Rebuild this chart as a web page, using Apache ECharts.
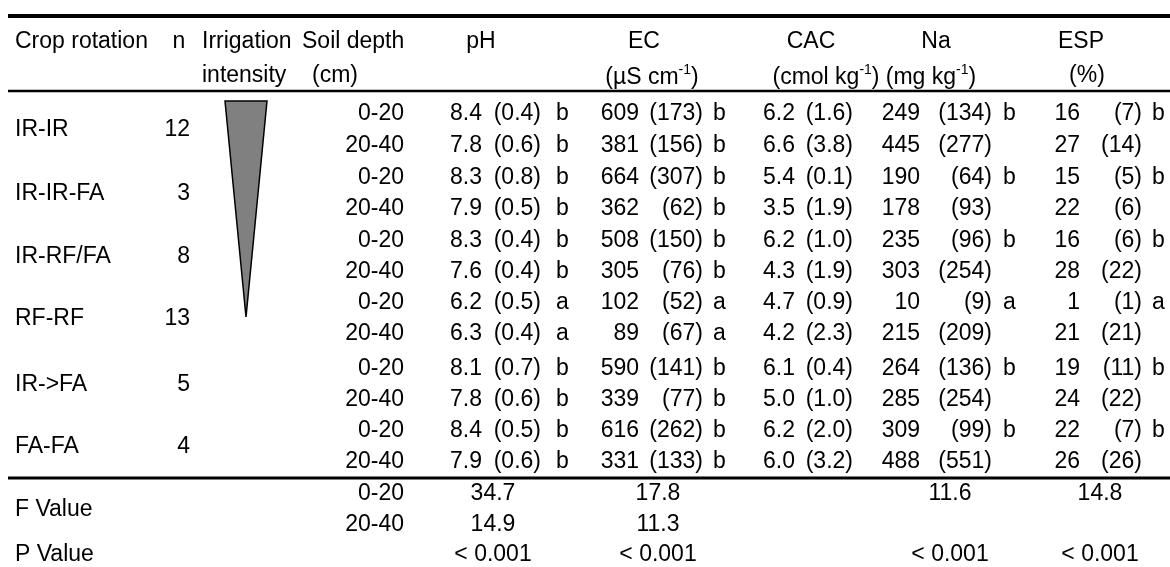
<!DOCTYPE html>
<html>
<head>
<meta charset="utf-8">
<script src="https://cdn.jsdelivr.net/npm/echarts@6/dist/echarts.min.js"></script>
<style>
html,body{margin:0;padding:0;background:#fff;}
#c{width:1170px;height:567px;}
</style>
</head>
<body>
<div id="c"></div>
<script>
// ---------- data ----------
const rotations = ['IR-IR', 'IR-IR-FA', 'IR-RF/FA', 'RF-RF', 'IR->FA', 'FA-FA'];
const nValues = [12, 3, 8, 13, 5, 4];
const depths = ['0-20', '20-40'];

const pHMean = [8.4, 7.8, 8.3, 7.9, 8.3, 7.6, 6.2, 6.3, 8.1, 7.8, 8.4, 7.9];
const pHSd = [0.4, 0.6, 0.8, 0.5, 0.4, 0.4, 0.5, 0.4, 0.7, 0.6, 0.5, 0.6];
const pHLetter = ['b', 'b', 'b', 'b', 'b', 'b', 'a', 'a', 'b', 'b', 'b', 'b'];

const ecMean = [609, 381, 664, 362, 508, 305, 102, 89, 590, 339, 616, 331];
const ecSd = [173, 156, 307, 62, 150, 76, 52, 67, 141, 77, 262, 133];
const ecLetter = ['b', 'b', 'b', 'b', 'b', 'b', 'a', 'a', 'b', 'b', 'b', 'b'];

const cacMean = [6.2, 6.6, 5.4, 3.5, 6.2, 4.3, 4.7, 4.2, 6.1, 5.0, 6.2, 6.0];
const cacSd = [1.6, 3.8, 0.1, 1.9, 1.0, 1.9, 0.9, 2.3, 0.4, 1.0, 2.0, 3.2];

const naMean = [249, 445, 190, 178, 235, 303, 10, 215, 264, 285, 309, 488];
const naSd = [134, 277, 64, 93, 96, 254, 9, 209, 136, 254, 99, 551];
const naLetter = ['b', '', 'b', '', 'b', '', 'a', '', 'b', '', 'b', ''];

const espMean = [16, 27, 15, 22, 16, 28, 1, 21, 19, 24, 22, 26];
const espSd = [7, 14, 5, 6, 6, 22, 1, 21, 11, 22, 7, 26];
const espLetter = ['b', '', 'b', '', 'b', '', 'a', '', 'b', '', 'b', ''];

const fValues = { pH: [34.7, 14.9], EC: [17.8, 11.3], Na: [11.6, null], ESP: [14.8, null] };
const pValues = { pH: '< 0.001', EC: '< 0.001', Na: '< 0.001', ESP: '< 0.001' };

const headers1 = ['Crop rotation', 'n', 'Irrigation', 'Soil depth', 'pH', 'EC', 'CAC', 'Na', 'ESP'];
const headers2 = ['intensity', '(cm)'];

// ---------- layout (pixels) ----------
const FS = 23;
const FAM = '"Liberation Sans", Arial, sans-serif';
const rowY = [114, 146, 178, 209, 241, 272, 303, 334, 369, 400, 431, 462];
const fRowY = [494, 525];
const pRowY = 555;
const head1Y = 42, head2Y = 76;
const lines = [{ y: 16, w: 4 }, { y: 91, w: 2.5 }, { y: 478, w: 3 }];
const col = {
  label: 15, n: 190, nHead: 179, irr: 202, soilHead: 302, cmHead: 312, depth: 404,
  pH: { head: 481, mean: 482, sd: 541, let: 556, stat: 493 },
  EC: { head: 644, unit: 652, mean: 639, sd: 703, let: 713, stat: 658 },
  CAC: { head: 811, unit: 826, mean: 795, sd: 853 },
  Na: { head: 936, unit: 931, mean: 920, sd: 992, let: 1003, stat: 950 },
  ESP: { head: 1081, unit: 1087, mean: 1080, sd: 1142, let: 1152, stat: 1100 }
};
const tri = { top: 101, bottom: 317, left: 225, right: 267 };

function renderItem(params, api) {
  const children = [];
  const P = (x, y) => api.coord([x, y]);
  function T(x, y, s, align, rich) {
    const p = P(x, y);
    const st = { text: s, x: p[0], y: p[1], fill: '#000', fontSize: FS, fontFamily: FAM, align: align || 'left', verticalAlign: 'middle' };
    if (rich) st.rich = rich;
    children.push({ type: 'text', style: st });
  }
  // lines
  lines.forEach(l => {
    const a = P(8, l.y), b = P(1170, l.y);
    children.push({ type: 'line', shape: { x1: a[0], y1: a[1], x2: b[0], y2: b[1] }, style: { stroke: '#000', lineWidth: l.w } });
  });
  // triangle (irrigation intensity)
  children.push({ type: 'polygon', shape: { points: [P(tri.left, tri.top), P(tri.right, tri.top), P((tri.left + tri.right) / 2, tri.bottom)] }, style: { fill: '#808080', stroke: '#000', lineWidth: 1.5 } });
  // headers
  T(col.label, head1Y, headers1[0]);
  T(col.nHead, head1Y, headers1[1], 'center');
  T(col.irr, head1Y, headers1[2]);
  T(col.soilHead, head1Y, headers1[3]);
  T(col.pH.head, head1Y, headers1[4], 'center');
  T(col.EC.head, head1Y, headers1[5], 'center');
  T(col.CAC.head, head1Y, headers1[6], 'center');
  T(col.Na.head, head1Y, headers1[7], 'center');
  T(col.ESP.head, head1Y, headers1[8], 'center');
  T(col.irr, head2Y, headers2[0]);
  T(col.cmHead, head2Y, headers2[1]);
  const rich = {
    m: { fontSize: FS, fontFamily: FAM, fill: '#000', lineHeight: 26, verticalAlign: 'bottom' },
    s: { fontSize: 14, fontFamily: FAM, fill: '#000', lineHeight: 14, verticalAlign: 'top' }
  };
  T(col.EC.unit, head2Y, '{m|(µS cm}{s|-1}{m|)}', 'center', rich);
  T(col.CAC.unit, head2Y, '{m|(cmol kg}{s|-1}{m|)}', 'center', rich);
  T(col.Na.unit, head2Y, '{m|(mg kg}{s|-1}{m|)}', 'center', rich);
  T(col.ESP.unit, head2Y, '(%)', 'center');
  // body
  rotations.forEach((r, g) => {
    const yc = (rowY[2 * g] + rowY[2 * g + 1]) / 2;
    T(col.label, yc, r);
    T(col.n, yc, String(nValues[g]), 'right');
  });
  rowY.forEach((y, i) => {
    T(col.depth, y, depths[i % 2], 'right');
    T(col.pH.mean, y, pHMean[i].toFixed(1), 'right');
    T(col.pH.sd, y, '(' + pHSd[i].toFixed(1) + ')', 'right');
    T(col.pH.let, y, pHLetter[i]);
    T(col.EC.mean, y, String(ecMean[i]), 'right');
    T(col.EC.sd, y, '(' + ecSd[i] + ')', 'right');
    T(col.EC.let, y, ecLetter[i]);
    T(col.CAC.mean, y, cacMean[i].toFixed(1), 'right');
    T(col.CAC.sd, y, '(' + cacSd[i].toFixed(1) + ')', 'right');
    T(col.Na.mean, y, String(naMean[i]), 'right');
    T(col.Na.sd, y, '(' + naSd[i] + ')', 'right');
    if (naLetter[i]) T(col.Na.let, y, naLetter[i]);
    T(col.ESP.mean, y, String(espMean[i]), 'right');
    T(col.ESP.sd, y, '(' + espSd[i] + ')', 'right');
    if (espLetter[i]) T(col.ESP.let, y, espLetter[i]);
  });
  // statistics
  T(col.label, (fRowY[0] + fRowY[1]) / 2, 'F Value');
  fRowY.forEach((y, i) => {
    T(col.depth, y, depths[i], 'right');
    ['pH', 'EC', 'Na', 'ESP'].forEach(k => {
      const v = fValues[k][i];
      if (v != null) T(col[k].stat, y, v.toFixed(1), 'center');
    });
  });
  T(col.label, pRowY, 'P Value');
  ['pH', 'EC', 'Na', 'ESP'].forEach(k => T(col[k].stat, pRowY, pValues[k], 'center'));
  return { type: 'group', children };
}

const chart = echarts.init(document.getElementById('c'), null, { renderer: 'canvas' });
chart.setOption({
  backgroundColor: '#fff',
  animation: false,
  grid: { left: 0, right: 0, top: 0, bottom: 0 },
  xAxis: { type: 'value', min: 0, max: 1170, show: false },
  yAxis: { type: 'value', min: 0, max: 567, inverse: true, show: false },
  series: [{
    type: 'custom',
    coordinateSystem: 'cartesian2d',
    renderItem: renderItem,
    data: [[0, 0]],
    clip: false
  }]
});
</script>
</body>
</html>
